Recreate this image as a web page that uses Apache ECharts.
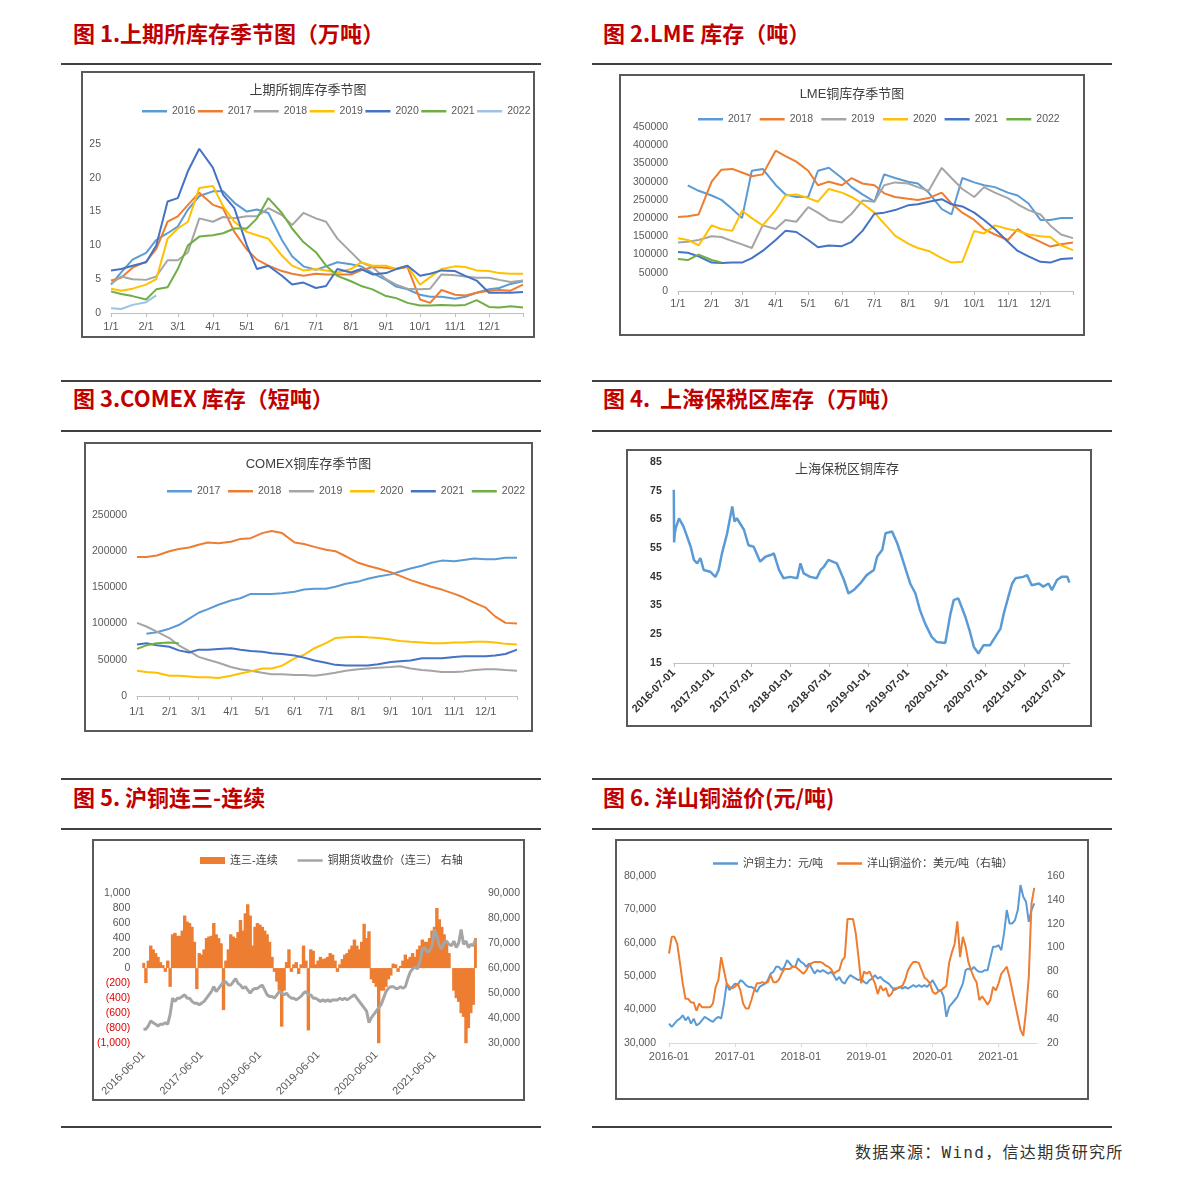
<!DOCTYPE html>
<html>
<head>
<meta charset="utf-8">
<script src="https://cdn.jsdelivr.net/npm/echarts@6/dist/echarts.min.js"></script>
<style>
body { margin: 0; background: #fff; }
.page { position: relative; width: 1191px; height: 1182px; font-family: "Noto Sans CJK SC", sans-serif; }
.ttl { position: absolute; color: #C00000; font-weight: bold; font-size: 22px; line-height: 26px; white-space: nowrap; }
.rule { position: absolute; height: 0; border-top: 2px solid #404040; }
.box { position: absolute; border: 2px solid #595959; box-sizing: border-box; background: #fff; }
.box > div { position: absolute; left: 0; top: 0; right: 0; bottom: 0; }
.src { position: absolute; left: 855px; top: 1143px; font-family: "DejaVu Sans Mono", "Noto Sans CJK SC", monospace; font-size: 16px; line-height: 20px; letter-spacing: 1.3px; color: #333; white-space: nowrap; }
</style>
</head>
<body>
<div class="page">
  <div class="ttl" style="left:73px;top:19px">图 1.上期所库存季节图（万吨）</div>
  <div class="ttl" style="left:603px;top:19px">图 2.LME 库存（吨）</div>
  <div class="rule" style="left:61px;top:63px;width:480px"></div>
  <div class="rule" style="left:592px;top:63px;width:520px"></div>
  <div class="box" style="left:81px;top:71px;width:454px;height:267px"><div id="c1"></div></div>
  <div class="box" style="left:619px;top:74px;width:466px;height:262px"><div id="c2"></div></div>

  <div class="rule" style="left:61px;top:380px;width:480px"></div>
  <div class="rule" style="left:592px;top:380px;width:520px"></div>
  <div class="ttl" style="left:73px;top:384px">图 3.COMEX 库存（短吨）</div>
  <div class="ttl" style="left:603px;top:384px">图 4.&nbsp;&nbsp;上海保税区库存（万吨）</div>
  <div class="rule" style="left:61px;top:430px;width:480px"></div>
  <div class="rule" style="left:592px;top:430px;width:520px"></div>
  <div class="box" style="left:84px;top:442px;width:449px;height:290px"><div id="c3"></div></div>
  <div class="box" style="left:626px;top:449px;width:466px;height:278px"><div id="c4"></div></div>

  <div class="rule" style="left:61px;top:778px;width:480px"></div>
  <div class="rule" style="left:592px;top:778px;width:520px"></div>
  <div class="ttl" style="left:73px;top:783px">图 5. 沪铜连三-连续</div>
  <div class="ttl" style="left:603px;top:783px">图 6. 洋山铜溢价(元/吨)</div>
  <div class="rule" style="left:61px;top:828px;width:480px"></div>
  <div class="rule" style="left:592px;top:828px;width:520px"></div>
  <div class="box" style="left:92px;top:839px;width:433px;height:262px"><div id="c5"></div></div>
  <div class="box" style="left:615px;top:839px;width:474px;height:261px"><div id="c6"></div></div>

  <div class="rule" style="left:61px;top:1126px;width:480px"></div>
  <div class="rule" style="left:592px;top:1126px;width:520px"></div>
  <div class="src">数据来源：Wind，信达期货研究所</div>
</div>

<script>
// ---------- shared ----------
const FONT = '"Liberation Sans", "Noto Sans CJK SC", sans-serif';
const AX = '#595959';
const LINE_ICON = 'path://M0,0H50V5H0Z';
const MONTH_DAYS = [0, 31, 59, 90, 120, 151, 181, 212, 243, 273, 304, 334];
// day of year of each sampled point in the seasonal charts
const SAMPLE_DAYS = [0, 9, 19, 31, 40, 50, 59, 68, 78, 90, 99, 109, 120, 129, 139, 151, 160, 170, 181, 190,
  200, 212, 221, 231, 243, 252, 262, 273, 282, 292, 304, 313, 323, 334, 343, 353, 364];

// ---------- chart 1: SHFE (万吨) ----------
const shfeYears = ['2016', '2017', '2018', '2019', '2020', '2021', '2022'];
const shfeColors = ['#5B9BD5', '#ED7D31', '#A5A5A5', '#FFC000', '#4472C4', '#70AD47', '#9DC3E6'];
const shfe2016 = [4.2, 6.0, 7.9, 8.9, 10.8, 11.8, 12.8, 15.3, 17.3, 18.0, 18.0, 16.3, 15.0, 15.3, 14.8, 10.8, 8.4, 6.9, 6.4, 6.9, 7.5, 7.2, 6.9, 5.9, 4.9, 3.9, 3.5, 2.7, 2.4, 2.4, 2.1, 2.4, 3.0, 3.5, 3.7, 4.3, 4.7];
const shfe2017 = [4.8, 5.2, 6.7, 7.6, 9.5, 13.5, 14.3, 16.0, 17.8, 16.0, 15.5, 12.0, 9.4, 7.9, 7.0, 6.2, 5.8, 5.5, 5.8, 5.7, 5.7, 5.7, 6.3, 6.8, 6.7, 6.5, 6.8, 2.0, 1.5, 3.4, 2.7, 2.6, 3.0, 3.3, 3.4, 3.3, 4.2];
const shfe2018 = [4.3, 5.4, 5.0, 4.9, 5.4, 7.8, 7.8, 9.0, 14.0, 13.5, 14.2, 14.0, 14.3, 14.3, 15.5, 14.5, 13.0, 14.8, 14.0, 13.5, 11.0, 9.0, 7.5, 6.8, 5.0, 4.2, 3.6, 3.5, 3.6, 5.7, 5.6, 5.4, 5.2, 5.2, 4.9, 4.6, 4.8];
const shfe2019 = [3.6, 3.3, 3.6, 4.2, 5.0, 11.0, 12.5, 13.5, 18.5, 18.8, 15.8, 13.5, 12.0, 11.5, 11.0, 8.5, 7.0, 6.3, 6.5, 6.3, 6.0, 6.5, 7.5, 7.0, 7.0, 6.5, 7.0, 4.2, 5.3, 6.5, 6.9, 6.8, 6.3, 6.2, 5.9, 5.8, 5.8];
const shfe2020 = [6.3, 6.5, 7.0, 7.5, 10.0, 16.5, 17.0, 21.0, 24.3, 21.5, 17.5, 15.5, 10.0, 6.5, 7.0, 5.5, 4.2, 4.5, 3.7, 4.0, 6.5, 6.0, 6.5, 5.7, 5.9, 6.5, 7.0, 5.5, 5.8, 6.3, 6.2, 5.5, 4.8, 3.0, 3.0, 3.0, 3.1];
const shfe2021 = [3.2, 2.8, 2.5, 2.0, 3.5, 3.8, 6.5, 10.0, 11.3, 11.5, 11.8, 12.5, 12.5, 14.0, 17.0, 14.8, 12.5, 10.5, 9.0, 7.0, 5.5, 4.7, 4.0, 3.5, 2.5, 2.2, 1.5, 1.1, 1.1, 1.2, 1.1, 1.2, 1.9, 0.9, 0.8, 1.0, 0.8];
const shfe2022 = [0.7, 0.6, 1.2, 1.6, 2.6];

// ---------- chart 2: LME (吨) ----------
const lmeYears = ['2017', '2018', '2019', '2020', '2021', '2022'];
const lmeColors = ['#5B9BD5', '#ED7D31', '#A5A5A5', '#FFC000', '#4472C4', '#70AD47'];
const lme2017 = [null, 290000, 275000, 262000, 250000, 225000, 200000, 330000, 335000, 291000, 265000, 258000, 258000, 330000, 338000, 310000, 285000, 265000, 245000, 320000, 310000, 300000, 295000, 270000, 225000, 210000, 310000, 298000, 290000, 285000, 270000, 262000, 240000, 195000, 195000, 200000, 200000];
const lme2018 = [203000, 205000, 210000, 300000, 333000, 335000, 325000, 315000, 320000, 385000, 370000, 355000, 330000, 290000, 300000, 290000, 310000, 295000, 290000, 268000, 258000, 253000, 250000, 255000, 270000, 240000, 215000, 195000, 170000, 155000, 140000, 170000, 150000, 135000, 122000, 128000, 133000];
const lme2019 = [133000, 135000, 140000, 150000, 148000, 137000, 128000, 118000, 180000, 170000, 195000, 190000, 230000, 215000, 195000, 188000, 212000, 248000, 245000, 290000, 298000, 295000, 285000, 275000, 338000, 310000, 280000, 258000, 285000, 270000, 255000, 238000, 222000, 210000, 180000, 155000, 145000];
const lme2020 = [145000, 140000, 125000, 180000, 170000, 165000, 220000, 200000, 180000, 222000, 262000, 265000, 255000, 245000, 280000, 270000, 258000, 240000, 215000, 185000, 152000, 130000, 118000, 110000, 90000, 78000, 80000, 165000, 158000, 180000, 170000, 165000, 155000, 150000, 148000, 125000, 112000];
const lme2021 = [107000, 105000, 95000, 78000, 77000, 78000, 78000, 90000, 110000, 140000, 165000, 162000, 140000, 120000, 125000, 123000, 135000, 165000, 212000, 215000, 222000, 235000, 238000, 245000, 252000, 238000, 232000, 215000, 195000, 170000, 135000, 110000, 95000, 80000, 78000, 88000, 90000];
const lme2022 = [88000, 85000, 100000, 85000, 78000];

// ---------- chart 3: COMEX (短吨) ----------
const comexYears = ['2017', '2018', '2019', '2020', '2021', '2022'];
const comex2017 = [null, 86000, 88000, 93000, 98000, 107000, 115000, 120000, 126000, 132000, 135000, 141000, 141000, 141000, 142000, 144000, 147000, 148000, 148000, 151000, 155000, 158000, 162000, 165000, 168000, 172000, 176000, 180000, 184000, 187000, 186000, 188000, 190000, 189000, 189000, 191000, 191000];
const comex2018 = [192000, 192000, 194000, 200000, 203000, 205000, 209000, 212000, 211000, 213000, 217000, 218000, 225000, 228000, 225000, 212000, 210000, 206000, 202000, 200000, 193000, 184000, 180000, 176000, 171000, 166000, 160000, 155000, 151000, 147000, 141000, 136000, 129000, 122000, 110000, 101000, 100000];
const comex2019 = [101000, 96000, 89000, 80000, 70000, 62000, 54000, 50000, 46000, 40000, 37000, 35000, 32000, 30000, 30000, 29000, 29000, 28000, 30000, 32000, 35000, 37000, 38000, 39000, 40000, 41000, 38000, 36000, 35000, 33000, 33000, 34000, 36000, 37000, 37000, 36000, 35000];
const comex2020 = [35000, 33000, 32000, 28000, 28000, 27000, 26000, 26000, 25000, 28000, 31000, 34000, 38000, 38000, 42000, 52000, 57000, 66000, 73000, 80000, 81000, 82000, 81000, 80000, 78000, 76000, 75000, 74000, 73000, 73000, 74000, 74000, 75000, 75000, 74000, 72000, 71000];
const comex2021 = [71000, 73000, 70000, 68000, 63000, 60000, 64000, 64000, 65000, 66000, 64000, 62000, 61000, 59000, 58000, 56000, 53000, 49000, 46000, 43000, 42000, 42000, 42000, 44000, 47000, 48000, 49000, 52000, 52000, 52000, 54000, 55000, 55000, 55000, 56000, 58000, 64000];
const comex2022 = [65000, 70000, 73000, 74000, 73000];

// ---------- chart 4: bonded stocks (万吨), months since 2016-07-01 ----------
const bondedMonths = [0, 0.05, 0.15, 0.3, 0.8, 1.5, 2.6, 3.1, 3.6, 4.1, 4.6, 5.6, 6.4, 6.9, 7.4, 8.2, 9.0, 9.35, 9.7, 10.8,
  11.5, 12.3, 13.3, 14.1, 14.9, 15.4, 16.2, 16.9, 17.9, 19.0, 19.5, 20.0, 21.0, 22.0, 22.6, 23.1, 23.8, 25.1, 26.2, 26.9,
  27.7, 28.7, 29.7, 30.8, 31.3, 32.1, 32.6, 33.6, 34.4, 35.1, 35.9, 36.4, 37.2, 37.9, 38.7, 39.7, 40.5, 41.8, 42.6, 43.1,
  43.8, 44.9, 45.6, 46.2, 46.9, 47.7, 48.7, 49.5, 50.3, 50.8, 51.5, 52.1, 52.6, 53.8, 54.4, 55.1, 56.2, 56.9, 57.7, 58.2,
  59.0, 59.7, 60.6, 60.9];
const bondedStock = [75.3, 57, 60, 62, 65.4, 62.5, 55.5, 50.9, 49.7, 51.5, 47.4, 46.8, 45, 47.4, 53, 60, 69.5, 64.3, 65.4, 61.4,
  56, 55.5, 50.3, 52, 52.6, 53.2, 47.4, 44.5, 45, 44.5, 49.7, 46.2, 45, 44.5, 47.4, 48.5, 50.9, 49.7, 43.9, 39.2,
  40.4, 42.7, 45.6, 47.4, 52, 54.4, 60.2, 60.8, 56.7, 52, 46.2, 42.7, 39.2, 33.4, 28.7, 24.1, 22.3, 22, 32.2, 36.9,
  37.5, 31, 25.8, 20.6, 18.3, 21.2, 21.2, 24.1, 27, 32.2, 38, 42.7, 44.5, 45, 45.6, 42.1, 42.7, 41.6, 42.7, 40.4,
  43.9, 45, 45, 43];

// ---------- chart 5: spread, half-month steps from 2016-06-01 ----------
const spreadTicks = ['2016-06-01', '2017-06-01', '2018-06-01', '2019-06-01', '2020-06-01', '2021-06-01'];
const spread5 = [
  70, -200, 100, 300, 250, 200, 150, 80, 40, -50,
  100, -250, 450, 470, 430, 430, 500, 700, 620, 600,
  550, 350, -280, 200, 180, 250, 400, 420, 430, 600,
  450, 400, 330, -560, 100, 250, 450, 420, 400, 480,
  640, 500, 730, 850, 700, 300, 550, 600, 580, 550,
  500, 450, 350, 150, -50, -180, -300, -780, -300, 80,
  250, -50, 50, 80, -80, 50, 300, 100, -830, 250,
  230, 50, 100, 150, 120, 130, 150, 200, 180, 100,
  -50, 50, 120, 180, 200, 250, 300, 380, 300, 250,
  350, 590, 400, 490, -150, -200, -250, -1000, -300, -300,
  -250, -150, -100, 60, 50, -50, 30, 100, 180, 120,
  150, 200, 150, 250, 300, 380, 350, 350, 400, 500,
  550, 800, 650, 550, 450, 350, 200, 0, -300, -400,
  -450, -600, -650, -1000, -800, -600, -490, 400];
const close5 = [
  35600, 35600, 36900, 38900, 38200, 37600, 36900, 37600, 37600, 38200,
  37600, 41500, 48000, 46700, 48000, 48000, 48700, 49300, 48000, 48000,
  46700, 46000, 46000, 45400, 46000, 46700, 48000, 49300, 50600, 52600,
  50600, 51900, 53200, 54500, 54500, 53200, 53200, 54500, 55800, 53900,
  53200, 51900, 52600, 51300, 50000, 51300, 51900, 51900, 52600, 53200,
  51300, 49300, 48700, 48700, 48000, 49300, 50600, 50000, 49300, 50000,
  48700, 48000, 48000, 47300, 48000, 48700, 50000, 50600, 49300, 49300,
  48000, 48000, 47300, 46700, 47300, 46700, 47300, 46700, 47300, 47300,
  47300, 48000, 47300, 48000, 47300, 48000, 48700, 49300, 48000, 46700,
  45400, 44100, 42800, 38200, 40200, 41500, 42800, 44100, 45400, 48000,
  50600, 51900, 52600, 52600, 51900, 51900, 52600, 51900, 52600, 55800,
  58400, 59700, 60400, 59700, 62300, 67600, 68200, 66300, 66900, 68900,
  75400, 72800, 68900, 67600, 70200, 70800, 69500, 68900, 70800, 68200,
  70000, 75400, 69500, 70800, 68200, 69500, 68900, 71500];

// ---------- chart 6: SHFE main & Yangshan premium, half-month steps from 2016-01 ----------
const shfeMain6 = [
  35800, 34800, 35800, 36800, 37300, 38300, 36800, 37800, 35800, 37300,
  35300, 35800, 36800, 37800, 37300, 36800, 36300, 37300, 37800, 37300,
  41800, 47800, 45800, 46800, 47800, 47300, 48800, 48300, 47300, 46800,
  46800, 46300, 45300, 46800, 47300, 47800, 48800, 50800, 51300, 52800,
  52800, 51800, 52800, 54800, 53800, 52800, 52800, 55300, 54300, 53800,
  52800, 53800, 52300, 50800, 51800, 51300, 51800, 51300, 50800, 51300,
  50300, 48800, 49800, 48300, 47800, 49300, 50300, 49800, 49300, 48800,
  49300, 48300, 47800, 48800, 49300, 50300, 49300, 49800, 48800, 48300,
  47800, 46800, 45800, 46300, 46800, 46300, 46800, 46300, 46800, 47300,
  46800, 47300, 46800, 47300, 46800, 47800, 48800, 47300, 45800, 45800,
  43800, 37800, 40800, 41800, 42800, 43800, 45800, 47800, 51800, 52300,
  51800, 52800, 51800, 51300, 51300, 51800, 51800, 55300, 58800, 58800,
  59300, 57800, 62800, 69800, 65800, 65800, 66800, 69800, 77300, 73800,
  72300, 66300, 69800, 71800];
const premium6 = [
  95, 109, 109, 103, 87, 70, 57, 57, 54, 54,
  47, 53, 50, 50, 50, 50, 53, 67, 73, 92,
  81, 70, 67, 66, 67, 70, 64, 53, 49, 49,
  56, 64, 70, 70, 71, 70, 71, 77, 71, 71,
  73, 78, 82, 82, 82, 84, 84, 82, 80, 78,
  81, 85, 87, 88, 88, 88, 87, 85, 84, 82,
  78, 80, 81, 89, 92, 124, 124, 124, 112, 92,
  70, 80, 78, 80, 75, 70, 61, 68, 64, 66,
  59, 61, 66, 66, 67, 68, 73, 81, 85, 88,
  88, 87, 81, 75, 73, 70, 63, 61, 63, 64,
  66, 68, 87, 96, 103, 122, 92, 109, 101, 88,
  81, 75, 71, 56, 59, 56, 52, 56, 67, 64,
  70, 78, 81, 84, 75, 64, 53, 42, 31, 26,
  47, 75, 137, 150];

function fmt(n) { return Number(n).toLocaleString('en-US'); }
function halfMonths(arr) { return arr.map((v, i) => [i * 0.5, v]); }

function seasonal(id, cfg) {
  const chart = echarts.init(document.getElementById(id));
  chart.setOption({
    animation: false,
    textStyle: { fontFamily: FONT },
    title: {
      text: cfg.title, left: 'center', top: cfg.titleTop,
      textStyle: { fontSize: 13, fontWeight: 'normal', color: '#404040', fontFamily: FONT }
    },
    legend: {
      left: cfg.legendLeft, top: cfg.legendTop, width: 440, icon: LINE_ICON,
      itemWidth: 25, itemHeight: 10, itemGap: cfg.legendGap,
      textStyle: { fontSize: 10.5, color: AX, fontFamily: FONT }
    },
    grid: cfg.grid,
    xAxis: {
      type: 'value', min: 0, max: 364,
      axisLine: { show: true, lineStyle: { color: '#BFBFBF' } },
      axisTick: { show: true, customValues: MONTH_DAYS.concat([364]), length: 4, lineStyle: { color: '#BFBFBF' } },
      axisLabel: {
        customValues: MONTH_DAYS, color: AX, fontSize: 11, margin: cfg.xMargin,
        formatter: v => (MONTH_DAYS.indexOf(v) + 1) + '/1'
      },
      splitLine: { show: false }
    },
    yAxis: {
      type: 'value', min: 0, max: cfg.yMax, interval: cfg.yStep,
      axisLine: { show: false }, axisTick: { show: false }, splitLine: { show: false },
      axisLabel: { color: AX, fontSize: 10.5, margin: 10, formatter: v => String(v) }
    },
    series: cfg.names.map((name, k) => ({
      name: name, type: 'line', symbol: 'none',
      data: SAMPLE_DAYS.map((d, i) => [d, cfg.rows[k][i]]).filter(p => p[1] != null),
      lineStyle: { width: 2, color: cfg.colors[k] },
      itemStyle: { color: cfg.colors[k] }
    }))
  });
}

seasonal('c1', {
  title: '上期所铜库存季节图', titleTop: 6,
  legendLeft: 54, legendTop: 28, legendGap: 2.5,
  grid: { left: 28, right: 10, top: 71, bottom: 23 },
  xMargin: 8, yMax: 25, yStep: 5,
  names: shfeYears, colors: shfeColors,
  rows: [shfe2016, shfe2017, shfe2018, shfe2019, shfe2020, shfe2021, shfe2022]
});

seasonal('c2', {
  title: 'LME铜库存季节图', titleTop: 7,
  legendLeft: 72, legendTop: 33, legendGap: 8.3,
  grid: { left: 57, right: 10, top: 51, bottom: 43 },
  xMargin: 7, yMax: 450000, yStep: 50000,
  names: lmeYears, colors: lmeColors,
  rows: [lme2017, lme2018, lme2019, lme2020, lme2021, lme2022]
});

seasonal('c3', {
  title: 'COMEX铜库存季节图', titleTop: 9,
  legendLeft: 76, legendTop: 37, legendGap: 7.6,
  grid: { left: 51, right: 14, top: 71, bottom: 34 },
  xMargin: 10, yMax: 250000, yStep: 50000,
  names: comexYears, colors: lmeColors,
  rows: [comex2017, comex2018, comex2019, comex2020, comex2021, comex2022]
});

// chart 4
echarts.init(document.getElementById('c4')).setOption({
  animation: false,
  textStyle: { fontFamily: FONT },
  title: {
    text: '上海保税区铜库存', left: 162, top: 7,
    textStyle: { fontSize: 13, fontWeight: 'normal', color: '#404040', fontFamily: FONT }
  },
  grid: { left: 45, right: 20, top: 11, bottom: 62 },
  xAxis: {
    type: 'value', min: 0, max: 61,
    axisLine: { show: true, lineStyle: { color: '#BFBFBF' } },
    axisTick: { show: true, customValues: [0, 6, 12, 18, 24, 30, 36, 42, 48, 54, 60], length: 4, lineStyle: { color: '#BFBFBF' } },
    axisLabel: {
      customValues: [0, 6, 12, 18, 24, 30, 36, 42, 48, 54, 60],
      rotate: 45, margin: 8, fontSize: 11, fontWeight: 'bold', color: '#333',
      formatter: v => (2016 + Math.floor((v + 6) / 12)) + ((v / 6) % 2 === 0 ? '-07-01' : '-01-01')
    },
    splitLine: { show: false }
  },
  yAxis: {
    type: 'value', min: 15, max: 85, interval: 10,
    axisLine: { show: false }, axisTick: { show: false }, splitLine: { show: false },
    axisLabel: { color: '#333', fontSize: 10.5, fontWeight: 'bold', margin: 12 }
  },
  series: [{
    type: 'line', symbol: 'none',
    data: bondedMonths.map((m, i) => [m, bondedStock[i]]),
    lineStyle: { width: 2.5, color: '#5B9BD5' }
  }]
});

// chart 5 (category axis: one slot per half month, labels every 12 months)
echarts.init(document.getElementById('c5')).setOption({
  animation: false,
  textStyle: { fontFamily: FONT },
  legend: {
    left: 101, top: 9, itemWidth: 25, itemHeight: 7, itemGap: 20,
    textStyle: { fontSize: 11, color: '#404040', fontFamily: FONT },
    data: [{ name: '连三-连续', icon: 'rect' }, { name: '铜期货收盘价（连三） 右轴', icon: LINE_ICON }]
  },
  grid: { left: 46, right: 44, top: 52, bottom: 53 },
  xAxis: {
    type: 'category', boundaryGap: true,
    data: spread5.map((v, i) => String(i)),
    axisLine: { show: false }, axisTick: { show: false }, splitLine: { show: false },
    axisLabel: {
      interval: i => i % 24 === 0, rotate: 45, margin: 10, fontSize: 11, color: AX,
      formatter: (v, i) => spreadTicks[i / 24]
    }
  },
  yAxis: [{
    type: 'value', min: -1000, max: 1000, interval: 200,
    axisLine: { show: false }, axisTick: { show: false }, splitLine: { show: false },
    axisLabel: {
      margin: 12, fontSize: 10.5, color: AX,
      formatter: v => v < 0 ? '{neg|(' + fmt(-v) + ')}' : fmt(v),
      rich: { neg: { color: '#E00000', fontSize: 10.5, fontFamily: FONT } }
    }
  }, {
    type: 'value', min: 30000, max: 90000, interval: 10000,
    axisLine: { show: false }, axisTick: { show: false }, splitLine: { show: false },
    axisLabel: { margin: 11, fontSize: 10.5, color: AX, formatter: v => fmt(v) }
  }],
  series: [{
    name: '连三-连续', type: 'bar', yAxisIndex: 0, barWidth: 3.4,
    data: spread5, itemStyle: { color: '#ED7D31' }
  }, {
    name: '铜期货收盘价（连三） 右轴', type: 'line', yAxisIndex: 1, symbol: 'none',
    data: close5, lineStyle: { width: 3, color: '#A5A5A5' }, itemStyle: { color: '#A5A5A5' }
  }]
});

// chart 6
echarts.init(document.getElementById('c6')).setOption({
  animation: false,
  textStyle: { fontFamily: FONT },
  legend: {
    left: 91, top: 12, itemWidth: 25, itemHeight: 10, itemGap: 14, icon: LINE_ICON,
    textStyle: { fontSize: 11, color: '#404040', fontFamily: FONT }
  },
  grid: { left: 52, right: 50, top: 35, bottom: 55 },
  xAxis: {
    type: 'value', min: 0, max: 67,
    axisLine: { show: true, lineStyle: { color: '#D9D9D9' } },
    axisTick: { show: true, customValues: [0, 12, 24, 36, 48, 60], length: 4, lineStyle: { color: '#D9D9D9' } },
    axisLabel: {
      customValues: [0, 12, 24, 36, 48, 60], margin: 8, fontSize: 11, color: AX,
      formatter: v => (2016 + v / 12) + '-01'
    },
    splitLine: { show: false }
  },
  yAxis: [{
    type: 'value', min: 30000, max: 80000, interval: 10000,
    axisLine: { show: false }, axisTick: { show: false }, splitLine: { show: false },
    axisLabel: { margin: 13, fontSize: 10.5, color: AX, formatter: v => fmt(v) }
  }, {
    type: 'value', min: 20, max: 160, interval: 20,
    axisLine: { show: false }, axisTick: { show: false }, splitLine: { show: false },
    axisLabel: { margin: 10, fontSize: 10.5, color: AX }
  }],
  series: [{
    name: '沪铜主力：元/吨', type: 'line', yAxisIndex: 0, symbol: 'none',
    data: halfMonths(shfeMain6), lineStyle: { width: 2, color: '#5B9BD5' }, itemStyle: { color: '#5B9BD5' }
  }, {
    name: '洋山铜溢价：美元/吨（右轴）', type: 'line', yAxisIndex: 1, symbol: 'none',
    data: halfMonths(premium6), lineStyle: { width: 2, color: '#ED7D31' }, itemStyle: { color: '#ED7D31' }
  }]
});
</script>
</body>
</html>
